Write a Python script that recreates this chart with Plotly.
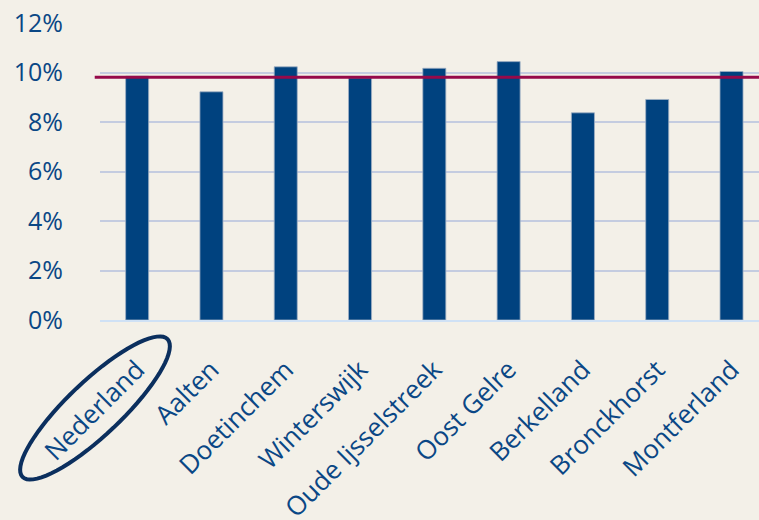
import math

import plotly.graph_objects as go

# Data (percent)
gemeenten = [
    "Nederland", "Aalten", "Doetinchem", "Winterswijk", "Oude Ijsselstreek",
    "Oost Gelre", "Berkelland", "Bronckhorst", "Montferland",
]
aandeel = [9.85, 9.22, 10.23, 9.78, 10.17, 10.44, 8.37, 8.91, 10.04]
nederland_lijn = 9.81
y_ticks = [0, 2, 4, 6, 8, 10, 12]
y_ticktext = ["0%", "2%", "4%", "6%", "8%", "10%", "12%"]

W, H = 759, 520
ML, MR, MT, MB = 100, 0, 23, 200

BG = "#f3f0e8"
BLUE = "#00427f"
TEXT = "#0a4785"
FONT = "Open Sans"

fig = go.Figure(go.Bar(
    x=gemeenten, y=aandeel,
    width=0.31,
    marker=dict(color=BLUE, line=dict(color="#9fb0c4", width=0.8)),
    hoverinfo="x+y",
))

# reference line for the national value
fig.add_shape(type="line", xref="paper", yref="y",
              x0=-0.008, x1=1, y0=nederland_lijn, y1=nederland_lijn,
              line=dict(color="#960a4a", width=3), layer="above")


def ellipse_path(cx, cy, a, b, ang_deg, n=72):
    """Rotated ellipse given in pixels, returned as a paper-ref SVG path."""
    pw, ph = W - ML - MR, H - MT - MB
    t = math.radians(ang_deg)
    pts = []
    for i in range(n):
        s = 2 * math.pi * i / n
        px = cx + a * math.cos(s) * math.cos(t) + b * math.sin(s) * math.sin(t)
        py = cy - a * math.cos(s) * math.sin(t) + b * math.sin(s) * math.cos(t)
        pts.append(((px - ML) / pw, (H - MB - py) / ph))
    return "M " + " L ".join(f"{x:.5f},{y:.5f}" for x, y in pts) + " Z"


# the circle round "Nederland"
fig.add_shape(type="path", xref="paper", yref="paper",
              path=ellipse_path(95, 408, 100, 27, 43.5),
              line=dict(color="#0b2f5e", width=4), layer="above")

fig.update_layout(
    width=W, height=H,
    margin=dict(l=ML, r=MR, t=MT, b=MB),
    paper_bgcolor=BG, plot_bgcolor=BG,
    font=dict(family=FONT, color=TEXT),
    showlegend=False,
    bargap=0.69,
    xaxis=dict(
        range=[-0.5, 8.37],
        tickangle=-45,
        tickfont=dict(size=26, color=TEXT),
        showgrid=False,
        showline=True, linecolor="#cfe1f5", linewidth=2,
        ticks="", ticklabelstandoff=22,
        automargin=False,
    ),
    yaxis=dict(
        range=[0, 12],
        tickvals=y_ticks, ticktext=y_ticktext,
        tickfont=dict(size=25, color=TEXT),
        showgrid=True, gridcolor="#c4cce0", gridwidth=2,
        zeroline=False, showline=False,
        ticks="", ticklabelstandoff=36,
        automargin=False,
    ),
)

# drop the page's default body margin so the figure sits at (0, 0)
fig.write_html("out.html", config={"displayModeBar": False},
               post_script="document.body.style.margin='0';")
